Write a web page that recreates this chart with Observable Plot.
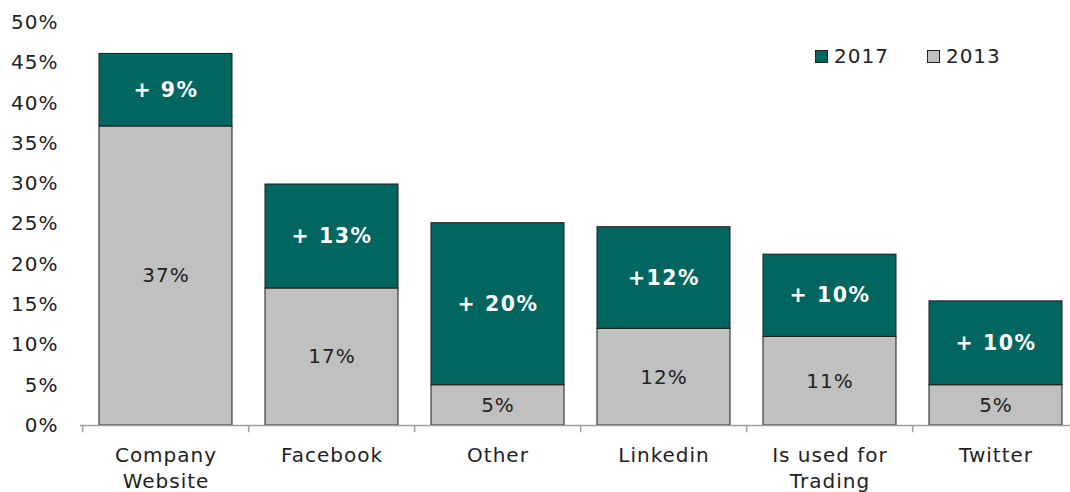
<!DOCTYPE html>
<html>
<head>
<meta charset="utf-8">
<script src="https://cdn.jsdelivr.net/npm/d3@7"></script>
<script src="https://cdn.jsdelivr.net/npm/@observablehq/plot@0.6"></script>
<style>
  html, body { margin: 0; padding: 0; background: #fff; }
  #wrap { position: relative; width: 1070px; height: 492px; font-family: "DejaVu Sans", Verdana, sans-serif; }
  #wrap svg text { letter-spacing: 1px; }
  #wrap svg text.bold { letter-spacing: 1.5px; }
  #legend { position: absolute; left: 815px; top: 44px; display: flex; gap: 38px; font-size: 20px; letter-spacing: 1px; color: #222; }
  #legend span.item { display: flex; align-items: center; gap: 6px; }
  #legend span.sw { width: 11px; height: 11px; border: 1px solid #222; display: inline-block; }
</style>
</head>
<body>
<div id="wrap"></div>
<script>
const categories = ["Company\nWebsite", "Facebook", "Other", "Linkedin", "Is used for\nTrading", "Twitter"];
const values2013 = [37.1, 17.0, 5.0, 12.0, 11.0, 5.0];
const increase2017 = [9.0, 12.9, 20.1, 12.6, 10.2, 10.4];
const labels2013 = ["37%", "17%", "5%", "12%", "11%", "5%"];
const labels2017 = ["+ 9%", "+ 13%", "+ 20%", "+12%", "+ 10%", "+ 10%"];
const yTicks = [0, 5, 10, 15, 20, 25, 30, 35, 40, 45, 50];
const seriesNames = ["2017", "2013"];
const seriesColors = ["#00665f", "#c0c0c0"];

const rows = [];
categories.forEach((c, i) => {
  rows.push({cat: c, series: "2013", y1: 0, y2: values2013[i], label: labels2013[i]});
  rows.push({cat: c, series: "2017", y1: values2013[i], y2: values2013[i] + increase2017[i], label: labels2017[i]});
});
const r13 = rows.filter(d => d.series === "2013");
const r17 = rows.filter(d => d.series === "2017");

const W = 1070, H = 492, ML = 80, MT = 22, MB = 67;
const xRange = [ML, 1080];
const step = (xRange[1] - xRange[0]) / categories.length;

const chart = Plot.plot({
  width: W,
  height: H,
  marginLeft: ML,
  marginRight: 0,
  marginTop: MT,
  marginBottom: MB,
  style: {fontFamily: "DejaVu Sans, Verdana, sans-serif", fontSize: "20px", color: "#222", background: "#fff"},
  x: {domain: categories, range: xRange, paddingInner: 0.2, paddingOuter: 0.1, label: null},
  y: {domain: [0, 50], label: null},
  color: {domain: seriesNames, range: seriesColors},
  marks: [
    Plot.barY(rows, {x: "cat", y1: "y1", y2: "y2", fill: "series", stroke: "#1a1a1a", strokeWidth: 1}),
    Plot.text(r13, {x: "cat", y: d => (d.y1 + d.y2) / 2, text: "label", fill: "#222", fontSize: 20}),
    Plot.text(r17, {x: "cat", y: d => (d.y1 + d.y2) / 2, text: "label", fill: "#fff", fontSize: 20.5, fontWeight: "bold", className: "bold"}),
    Plot.ruleY([0], {stroke: "#a0a0a0", strokeWidth: 1.5}),
    Plot.ruleX(categories, {x: d => d, y1: 0, y2: -0.9, dx: -step / 2, stroke: "#a0a0a0", strokeWidth: 1.5}),
    Plot.axisY({ticks: yTicks, tickFormat: d => d + "%", tickSize: 0, tickPadding: 22, fontSize: 20}),
    Plot.axisX({tickSize: 0, tickPadding: 18, fontSize: 20, lineHeight: 1.3})
  ]
});

const wrap = document.getElementById("wrap");
wrap.appendChild(chart);
chart.querySelectorAll("g.bold text, text.bold").forEach(t => t.classList.add("bold"));
chart.querySelectorAll("g.bold").forEach(g => g.querySelectorAll("text").forEach(t => t.style.letterSpacing = "1.5px"));
const legend = document.createElement("div");
legend.id = "legend";
seriesNames.forEach((s, i) => {
  const item = document.createElement("span");
  item.className = "item";
  const sw = document.createElement("span");
  sw.className = "sw";
  sw.style.background = seriesColors[i];
  const t = document.createElement("span");
  t.textContent = s;
  item.appendChild(sw);
  item.appendChild(t);
  legend.appendChild(item);
});
wrap.appendChild(legend);
</script>
</body>
</html>
